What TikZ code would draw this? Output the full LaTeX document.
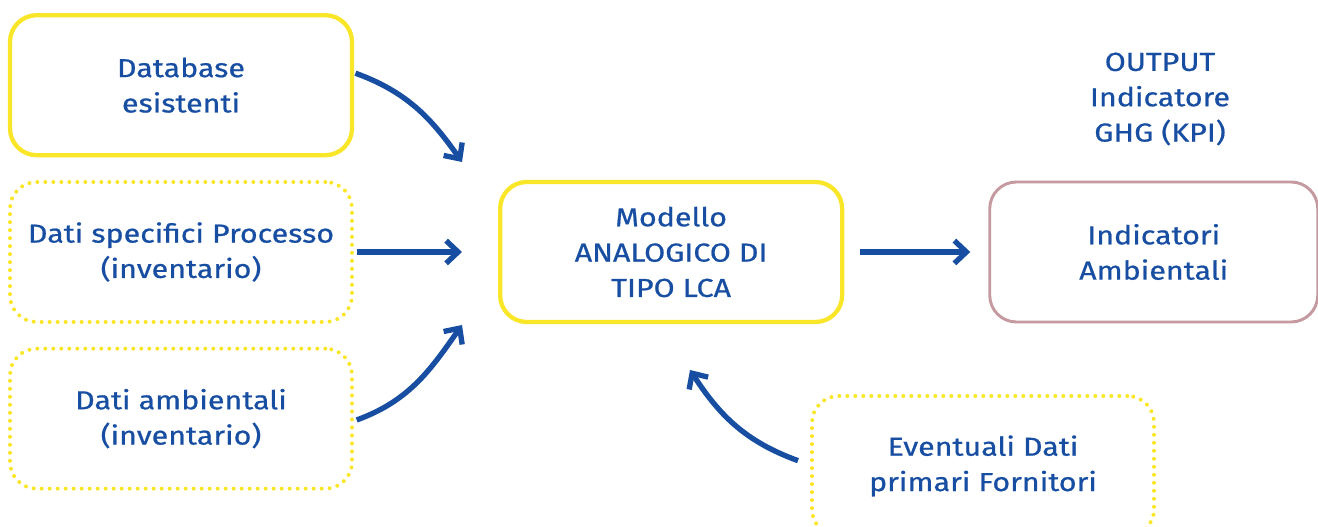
\documentclass[tikz,border=0pt]{standalone}
\usepackage{fontspec}
\setmainfont{Fira Sans}[FakeBold=0.7, FakeStretch=1.17]
\usetikzlibrary{arrows.meta,positioning}
\definecolor{lcaBlue}{RGB}{24,78,162}
\definecolor{lcaYellow}{RGB}{250,230,40}
\definecolor{lcaMauve}{RGB}{196,154,160}

\begin{document}
\begin{tikzpicture}[x=0.75pt,y=0.75pt,>={Straight Barb[length=9pt,width=17pt]}]
 \useasboundingbox (0,0) rectangle (1318,527);
 \tikzset{box/.style      = {rounded corners=20pt,
                             minimum width=256.5pt,
                             minimum height=105pt,
                             inner sep=0pt,
                             align=center,
                             text=lcaBlue,
                             font=\fontsize{19.5}{26.5}\selectfont},
          solidbox/.style = {box, draw=lcaYellow, line width=3.2pt},
          dotbox/.style   = {box, draw=lcaYellow, line width=3pt,
                             line cap=round, dash pattern=on 0pt off 6pt},
          outbox/.style   = {box, draw=lcaMauve, line width=2.2pt,
                             minimum width=246pt},
          flow/.style     = {->, draw=lcaBlue, line width=4pt}}
  \tikzset{node distance = 17pt and 108pt}
  \node[dotbox] (DS) at (181,275) {Dati specifici Processo\\(inventario)};
  \node[solidbox, above=of DS] (DB) {Database\\esistenti};
  \node[dotbox, below=of DS] (DA) {Dati ambientali\\(inventario)};
  \node[solidbox, right=of DS] (MOD) {Modello\\ANALOGICO DI\\TIPO LCA};
  \node[outbox, right=of MOD] (IND) {Indicatori\\Ambientali};
  \node[dotbox] (EV) at (983,61) {Eventuali Dati\\primari Fornitori};
  \node[align=center, text=lcaBlue, font=\fontsize{19.5}{26.5}\selectfont]
       (OUT) at (1160,428) {OUTPUT\\Indicatore\\GHG (KPI)};
  \coordinate (inA) at (462,365);
  \coordinate (inB) at (462,275);
  \coordinate (inC) at (462,202);
  \coordinate (inI) at ([xshift=-13.5pt]IND.west);
  \coordinate (inM) at (690,157);
  \draw[flow] ([xshift=1pt,yshift=9pt]DB.east) to[out=-20,in=125] (inA);
  \draw[flow] ([xshift=2pt]DS.east) -- (inB);
  \draw[flow] ([xshift=2pt,yshift=-1pt]DA.east) to[out=20,in=-125] (inC);
  \draw[flow] ([xshift=12pt]MOD.east) -- (inI);
  \draw[flow] ([xshift=-9pt,yshift=4pt]EV.west) to[out=160,in=-57] (inM);
\end{tikzpicture}
\end{document}
